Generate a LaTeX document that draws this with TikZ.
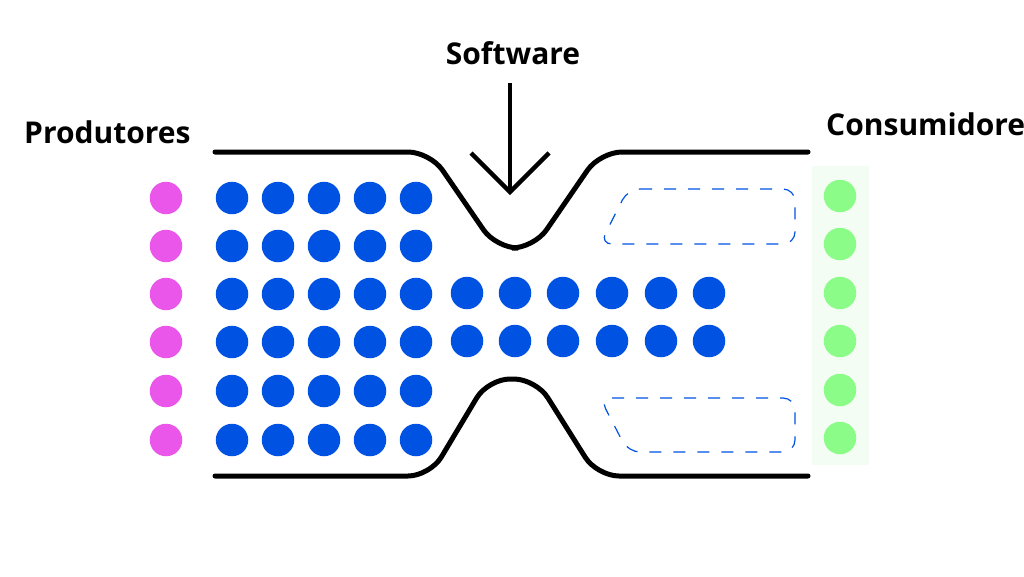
\documentclass[tikz,border=0pt]{standalone}
\usepackage{fontspec}
\setmainfont{Open Sans}
\usepackage{tikz}
\usetikzlibrary{calc}
\definecolor{flowblue}{HTML}{0052E2}
\definecolor{prodpink}{HTML}{EA55EA}
\definecolor{conslime}{HTML}{8CFC88}
\definecolor{consbg}{HTML}{F3FDF3}
\tikzstyle{dot}=[circle, minimum size=32.5pt, inner sep=0pt]
\tikzstyle{pdot}=[dot, fill=prodpink]
\tikzstyle{bdot}=[dot, fill=flowblue]
\tikzstyle{cdot}=[dot, fill=conslime]
\tikzstyle{wall}=[line width=5pt, line cap=round, rounded corners=22pt]
\tikzstyle{slot}=[draw=flowblue, line width=1.2pt, dash pattern=on 12pt off 12pt, rounded corners=12pt]
\tikzstyle{lbl}=[font=\fontsize{30}{34}\selectfont\bfseries, inner sep=0pt]

\begin{document}
\begin{tikzpicture}
        [x=1pt,y=-1pt]
            \useasboundingbox (0,0) rectangle (1024,576);
            % labels
            \node [lbl] (sw) at (513,53) {Software};
            \node [lbl, anchor=base west] (prod) at (24,143) {Produtores};
            \node [lbl, anchor=base west] (cons) at (826,135) {Consumidore};
            % consumer strip
            \fill [consbg] (812,166) rectangle (869,465);
            % dots
            \foreach \r/\y in {1/198,2/246,3/294,4/342,5/391,6/440} {
                \node [pdot] (p\r) at (166,\y) {};
                \foreach \c/\x in {1/232,2/278,3/324,4/370,5/416}
                    \node [bdot] (b\r\c) at (\x,\y) {};
            }
            \foreach \r/\y in {1/196,2/244,3/293,4/341,5/390,6/438}
                \node [cdot] (c\r) at (840,\y) {};
            \foreach \r/\y in {3/293,4/341}
                \foreach \c/\x in {6/467,7/515,8/563,9/612,10/661,11/709}
                    \node [bdot] (b\r\c) at (\x,\y) {};
            % funnel walls
            \draw [wall] (215,152) -- (430,152) -- (496,248) -- (534,248) -- (600,152) -- (808,152);
            \draw [wall] (215,476) -- (430,476) -- (488,379) -- (536,379) -- (597,476) -- (808,476);
            % empty slots
            \draw [slot] (628,189) -- (795,189) -- (795,244) -- (600,244) -- cycle;
            \draw [slot] (600,398) -- (795,398) -- (795,452) -- (628,452) -- cycle;
            % arrow
            \coordinate (top) at (510,83);
            \coordinate (tip) at (510,192);
            \draw [line width=4.5pt] (top) -- (tip);
            \draw [line width=4.5pt] ($(tip)+(-39,-39)$) -- (tip) -- ($(tip)+(39,-39)$);
        \end{tikzpicture}
\end{document}
